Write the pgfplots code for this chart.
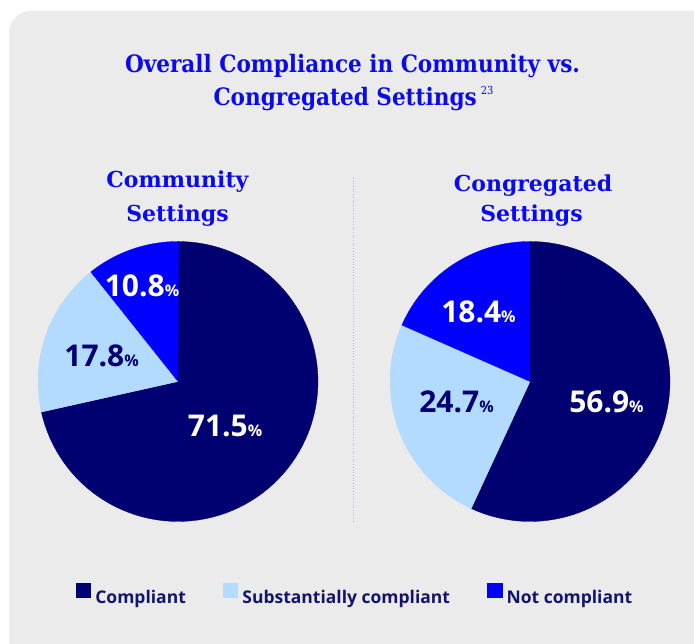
\documentclass[border=0pt]{standalone}
\usepackage{pgfplots}
\pgfplotsset{compat=1.18}
\usepackage{pgfplotstable}
\usepackage{fontspec}
\setmainfont{Open Sans}
\newfontfamily\titlefont{DejaVu Serif Condensed}
\newfontfamily\subfont{DejaVu Serif}
\definecolor{navy}{HTML}{000070}
\definecolor{lightb}{HTML}{B3DAFF}
\definecolor{brightb}{HTML}{0000FF}
\definecolor{titleb}{HTML}{0A0AEE}
\definecolor{bg}{HTML}{EBEBEB}
\definecolor{legtext}{HTML}{14146E}
\definecolor{sepc}{HTML}{A8A8F0}

\pgfplotstableread{
category community congregated
Compliant 71.5 56.9
Substantially 17.8 24.7
Not 10.8 18.4
}\compliancedata

% one pie slice from cumulative percentage #1 to #2, clockwise from 12 o'clock
\newcommand{\pieslice}[3]{%
  \addplot[fill=#3, draw=#3, line width=0.3pt, samples at={-1,0,1,...,90}, variable=\t]
  ({(\t>=0)*cos(90-3.6*(#1+(#2-#1)*\t/90))},{(\t>=0)*sin(90-3.6*(#1+(#2-#1)*\t/90))});
}
\newcommand{\pct}{{\fontsize{16}{16}\selectfont\%}}

\begin{document}
\begin{tikzpicture}[x=1pt,y=1pt]
\clip (0,0) rectangle (694,644);
\fill[white] (0,0) rectangle (694,644);
\fill[bg, rounded corners=22pt] (9,-40) rectangle (740,633);

\pgfplotstablegetelem{0}{community}\of\compliancedata \let\ca\pgfplotsretval
\pgfplotstablegetelem{1}{community}\of\compliancedata \let\cb\pgfplotsretval
\pgfplotstablegetelem{2}{community}\of\compliancedata \let\cc\pgfplotsretval
\pgfplotstablegetelem{0}{congregated}\of\compliancedata \let\ga\pgfplotsretval
\pgfplotstablegetelem{1}{congregated}\of\compliancedata \let\gb\pgfplotsretval
\pgfplotstablegetelem{2}{congregated}\of\compliancedata \let\gc\pgfplotsretval
\pgfmathsetmacro{\cab}{\ca+\cb}
\pgfmathsetmacro{\cabc}{\ca+\cb+\cc}
\pgfmathsetmacro{\gab}{\ga+\gb}
\pgfmathsetmacro{\gabc}{\ga+\gb+\gc}

% Community pie
\begin{axis}[at={(178pt,262.5pt)}, anchor=center, x=140pt, y=140pt,
  xmin=-1, xmax=1, ymin=-1, ymax=1, hide axis, clip=false,
  legend columns=3,
  legend style={at={(1.1357,-0.262)}, anchor=center, draw=none, fill=none,
    font=\bfseries\fontsize{17.5}{20}\selectfont, text=legtext,
    /tikz/every even column/.append style={column sep=33pt},
    /tikz/every odd column/.append style={column sep=0pt},
    nodes={inner xsep=4pt}},
  legend image code/.code={\fill[#1, draw=none] (0pt,-1pt) rectangle (15.5pt,14.5pt); \path[draw=none, fill=none] (0pt,-5.5pt) -- (0pt,14.5pt);}]
\pieslice{0}{\ca}{navy}
\pieslice{\ca}{\cab}{lightb}
\pieslice{\cab}{\cabc}{brightb}
\legend{Compliant, Substantially compliant, Not compliant}
\node[anchor=base, text=white, font=\bfseries\fontsize{30}{30}\selectfont] at (axis cs:0.336,-0.396) {71.5\pct};
\node[anchor=base, text=navy, font=\bfseries\fontsize{30}{30}\selectfont] at (axis cs:-0.546,0.104) {17.8\pct};
\node[anchor=base, text=white, font=\bfseries\fontsize{30}{30}\selectfont] at (axis cs:-0.257,0.604) {10.8\pct};
\end{axis}

% Congregated pie
\begin{axis}[at={(530pt,262.5pt)}, anchor=center, x=140pt, y=140pt,
  xmin=-1, xmax=1, ymin=-1, ymax=1, hide axis, clip=false]
\pieslice{0}{\ga}{navy}
\pieslice{\ga}{\gab}{lightb}
\pieslice{\gab}{\gabc}{brightb}
\node[anchor=base, text=white, font=\bfseries\fontsize{30}{30}\selectfont] at (axis cs:0.546,-0.225) {56.9\pct};
\node[anchor=base, text=navy, font=\bfseries\fontsize{30}{30}\selectfont] at (axis cs:-0.525,-0.225) {24.7\pct};
\node[anchor=base, text=white, font=\bfseries\fontsize{30}{30}\selectfont] at (axis cs:-0.368,0.418) {18.4\pct};
\end{axis}

% titles
\node[anchor=base, text=titleb, font=\titlefont\bfseries\fontsize{24}{26}\selectfont] at (352.5,571) {Overall Compliance in Community vs.};
\node[anchor=base, text=titleb, font=\titlefont\bfseries\fontsize{24}{26}\selectfont] at (353.5,538) {Congregated Settings\,\raisebox{11pt}{\fontsize{11}{11}\selectfont\mdseries 23}};
\node[anchor=base, text=titleb, font=\subfont\bfseries\fontsize{22}{24}\selectfont] at (177.5,456) {Community};
\node[anchor=base, text=titleb, font=\subfont\bfseries\fontsize{22}{24}\selectfont] at (177.5,422.3) {Settings};
\node[anchor=base, text=titleb, font=\subfont\bfseries\fontsize{22}{24}\selectfont] at (533,452.3) {Congregated};
\node[anchor=base, text=titleb, font=\subfont\bfseries\fontsize{22}{24}\selectfont] at (531.5,422.3) {Settings};

% separator
\draw[sepc, line width=1pt, dash pattern=on 1pt off 1.7pt] (353.5,466) -- (353.5,121);
\end{tikzpicture}
\end{document}
